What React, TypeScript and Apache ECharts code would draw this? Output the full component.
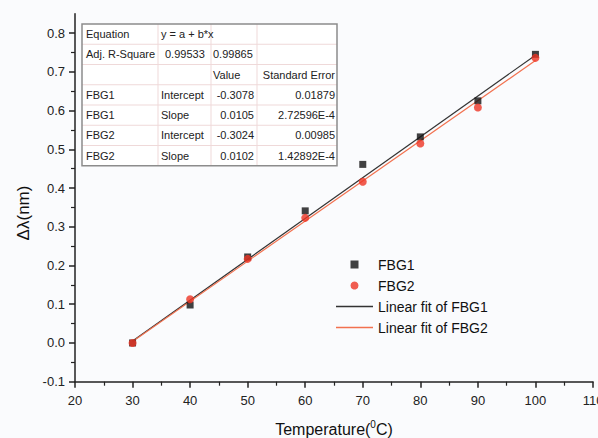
import React, { useEffect, useRef } from "react";
import * as echarts from "echarts";

const temps = [30, 40, 50, 60, 70, 80, 90, 100];
const fbg1 = [0.0, 0.098, 0.222, 0.341, 0.461, 0.532, 0.625, 0.745];
const fbg2 = [0.0, 0.113, 0.217, 0.323, 0.416, 0.515, 0.608, 0.736];
const fitX = [30, 100];
const fit1 = [0.005, 0.743];
const fit2 = [0.004, 0.729];
const yMajor = [-0.1, 0, 0.1, 0.2, 0.3, 0.4, 0.5, 0.6, 0.7, 0.8];

const tableRows: string[][] = [
  ["Equation", "y = a + b*x", "", ""],
  ["Adj. R-Square", "0.99533", "0.99865", ""],
  ["", "", "Value", "Standard Error"],
  ["FBG1", "Intercept", "-0.3078", "0.01879"],
  ["FBG1", "Slope", "0.0105", "2.72596E-4"],
  ["FBG2", "Intercept", "-0.3024", "0.00985"],
  ["FBG2", "Slope", "0.0102", "1.42892E-4"],
];

const FONT = "Liberation Sans, Arial, sans-serif";
const SQUARE = "path://M0,0H10V10H0Z";
const LINE_ICON = "path://M0,0H60V2.6H0Z";
const BLACK = "#111111";
const RED = "#ee3424";
const FIT_BLACK = "#333333";
const FIT_RED = "#f2714f";

function buildTable() {
  const x0 = 82, y0 = 24, x1 = 337, rowH = 20.25;
  const colX = [158, 211, 257];
  const els: any[] = [];
  const h = rowH * tableRows.length;
  els.push({ type: "rect", shape: { x: x0, y: y0, width: x1 - x0, height: h }, style: { fill: "#ffffff", stroke: "none" } });
  for (let i = 1; i < tableRows.length; i++) {
    els.push({ type: "line", shape: { x1: x0, y1: y0 + i * rowH, x2: x1, y2: y0 + i * rowH }, style: { stroke: "#efd9d9", lineWidth: 1 } });
  }
  colX.forEach((cx) => {
    els.push({ type: "line", shape: { x1: cx, y1: y0, x2: cx, y2: y0 + h }, style: { stroke: "#efd9d9", lineWidth: 1 } });
  });
  els.push({ type: "rect", shape: { x: x0, y: y0, width: x1 - x0, height: h }, style: { fill: "none", stroke: "#8c8c8c", lineWidth: 1.5 } });
  tableRows.forEach((row, i) => {
    const cy = y0 + rowH * (i + 0.5);
    const place = (text: string, x: number, align: string) => {
      if (!text) return;
      els.push({ type: "text", x, y: cy, style: { text, fill: "#222", font: `11px ${FONT}`, textAlign: align, textVerticalAlign: "middle" } });
    };
    place(row[0], 86, "left");
    if (i < 3) {
      place(row[1], i === 0 ? 161 : 165, "left");
      place(row[2], 213, "left");
      place(row[3], 335, "right");
    } else {
      place(row[1], 161, "left");
      place(row[2], 254, "right");
      place(row[3], 335, "right");
    }
  });
  return els;
}

export default function App() {
  const ref = useRef<HTMLDivElement>(null);
  useEffect(() => {
    if (!ref.current) return;
    const chart = echarts.init(ref.current, null, { renderer: "svg" });
    chart.setOption({
      animation: false,
      backgroundColor: "#fafbfd",
      grid: { left: 75, right: 5, top: 13.7, bottom: 56.3, containLabel: false, outerBoundsMode: "none" },
      legend: {
        orient: "vertical",
        left: 331,
        top: 251,
        itemWidth: 37,
        itemHeight: 8,
        itemGap: 4,
        symbolKeepAspect: true,
        textStyle: { color: "#111", fontSize: 14, fontFamily: FONT, lineHeight: 17 },
        data: [
          { name: "FBG1", icon: SQUARE, itemStyle: { color: BLACK } },
          { name: "FBG2", icon: "circle", itemStyle: { color: RED } },
          { name: "Linear fit of FBG1", icon: LINE_ICON, itemStyle: { color: FIT_BLACK } },
          { name: "Linear fit of FBG2", icon: LINE_ICON, itemStyle: { color: FIT_RED } },
        ],
      },
      xAxis: {
        type: "value",
        min: 20,
        max: 110,
        interval: 10,
        name: "Temperature({sup|0}C)",
        nameLocation: "middle",
        nameGap: 38,
        nameTextStyle: {
          color: "#111",
          fontSize: 16,
          fontFamily: FONT,
          lineHeight: 20,
          rich: { sup: { fontSize: 10, fontFamily: FONT, color: "#111", verticalAlign: "top", lineHeight: 20 } },
        },
        axisLine: { show: true, onZero: false, lineStyle: { color: "#222", width: 1.5 } },
        axisTick: { show: true, length: 6, lineStyle: { color: "#222", width: 1.5 } },
        minorTick: { show: true, splitNumber: 2, length: 4, lineStyle: { color: "#222", width: 1.2 } },
        axisLabel: { color: "#222", fontSize: 13, fontFamily: FONT, margin: 12 },
        splitLine: { show: false },
      },
      yAxis: {
        type: "value",
        min: -0.1,
        max: 0.85,
        interval: 0.1,
        axisLine: { show: true, onZero: false, lineStyle: { color: "#222", width: 1.5 } },
        axisTick: { show: true, length: 6, customValues: yMajor, lineStyle: { color: "#222", width: 1.5 } },
        minorTick: { show: true, splitNumber: 2, length: 4, lineStyle: { color: "#222", width: 1.2 } },
        axisLabel: {
          color: "#222",
          fontSize: 13,
          fontFamily: FONT,
          margin: 10,
          customValues: yMajor,
          formatter: (v: number) => v.toFixed(1),
        },
        splitLine: { show: false },
      },
      graphic: [
        ...buildTable(),
        {
          type: "text",
          x: 23,
          y: 213,
          rotation: Math.PI / 2,
          style: { text: "Δλ(nm)", fill: "#111", font: `17px ${FONT}`, textAlign: "center", textVerticalAlign: "middle" },
        },
      ],
      series: [
        {
          name: "Linear fit of FBG1",
          type: "line",
          data: fitX.map((x, i) => [x, fit1[i]]),
          symbol: "none",
          lineStyle: { color: FIT_BLACK, width: 1.2 },
          itemStyle: { color: FIT_BLACK },
          z: 2,
        },
        {
          name: "Linear fit of FBG2",
          type: "line",
          data: fitX.map((x, i) => [x, fit2[i]]),
          symbol: "none",
          lineStyle: { color: FIT_RED, width: 1.2 },
          itemStyle: { color: FIT_RED },
          z: 2,
        },
        {
          name: "FBG1",
          type: "scatter",
          data: temps.map((t, i) => [t, fbg1[i]]),
          symbol: "rect",
          symbolSize: 7,
          itemStyle: { color: BLACK },
          z: 3,
        },
        {
          name: "FBG2",
          type: "scatter",
          data: temps.map((t, i) => [t, fbg2[i]]),
          symbol: "circle",
          symbolSize: 8,
          itemStyle: { color: RED },
          z: 4,
        },
      ],
    });
    return () => chart.dispose();
  }, []);
  return <div ref={ref} style={{ position: "absolute", left: 0, top: 0, width: 598, height: 438 }} />;
}
